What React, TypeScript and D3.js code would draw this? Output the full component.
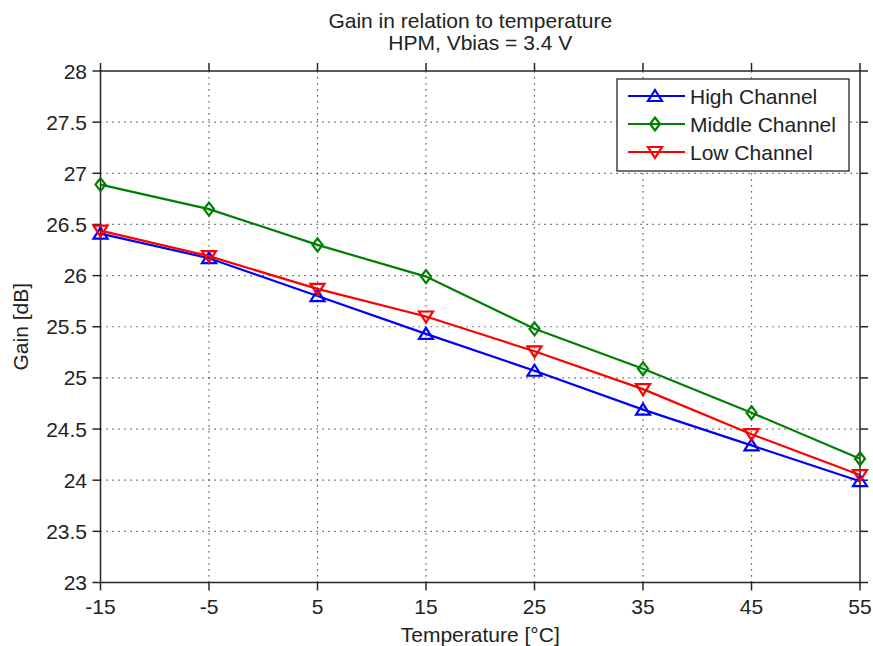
import React, { useEffect, useRef } from "react";
import * as d3 from "d3";

const temperatures = [-15, -5, 5, 15, 25, 35, 45, 55];
const highChannel = [26.41, 26.17, 25.8, 25.43, 25.07, 24.69, 24.34, 23.99];
const middleChannel = [26.89, 26.65, 26.3, 25.99, 25.48, 25.09, 24.66, 24.21];
const lowChannel = [26.44, 26.19, 25.87, 25.6, 25.26, 24.89, 24.45, 24.05];
const xTicks = [-15, -5, 5, 15, 25, 35, 45, 55];
const yTicks = [23, 23.5, 24, 24.5, 25, 25.5, 26, 26.5, 27, 27.5, 28];
const seriesNames = ["High Channel", "Middle Channel", "Low Channel"];
const seriesColors = ["#0000ff", "#008000", "#ff0000"];
const seriesMarkers = ["up", "diamond", "down"];
const titleLines = ["Gain in relation to temperature", "HPM, Vbias = 3.4 V"];
const xLabel = "Temperature [°C]";
const yLabel = "Gain [dB]";

const W = 873;
const H = 646;
const M = { left: 100.5, right: 13, top: 71, bottom: 64 };
const FONT = "'Liberation Sans', Arial, sans-serif";

function markerPath(kind: string) {
  if (kind === "up") return "M0,-6L7,5L-7,5Z";
  if (kind === "down") return "M0,6L7,-5L-7,-5Z";
  return "M0,-6.5L5,0L0,6.5L-5,0Z";
}

export default function App() {
  const ref = useRef<SVGSVGElement>(null);
  useEffect(() => {
    const svg = d3.select(ref.current);
    svg.selectAll("*").remove();
    const x = d3.scaleLinear().domain([-15, 55]).range([M.left, W - M.right]);
    const y = d3.scaleLinear().domain([23, 28]).range([H - M.bottom + 0.5, M.top]);
    const x0 = x(-15), x1 = x(55), y0 = y(23), y1 = y(28);
    const axisColor = "#262626";

    svg.append("rect").attr("width", W).attr("height", H).attr("fill", "#fff");

    // grid
    const grid = svg.append("g").attr("stroke", "#333").attr("stroke-width", 1.2).attr("stroke-dasharray", "1.2,4.8");
    xTicks.slice(1, -1).forEach((t) => {
      grid.append("line").attr("x1", x(t)).attr("x2", x(t)).attr("y1", y0).attr("y2", y1);
    });
    yTicks.slice(1, -1).forEach((t) => {
      grid.append("line").attr("x1", x0).attr("x2", x1).attr("y1", y(t)).attr("y2", y(t));
    });

    // box
    svg.append("rect").attr("x", x0).attr("y", y1).attr("width", x1 - x0).attr("height", y0 - y1)
      .attr("fill", "none").attr("stroke", axisColor).attr("stroke-width", 1.5);

    // ticks outward
    const tk = svg.append("g").attr("stroke", axisColor).attr("stroke-width", 1.5);
    xTicks.forEach((t) => {
      tk.append("line").attr("x1", x(t)).attr("x2", x(t)).attr("y1", y0).attr("y2", y0 + 8);
      tk.append("line").attr("x1", x(t)).attr("x2", x(t)).attr("y1", y1).attr("y2", y1 - 8);
    });
    yTicks.forEach((t) => {
      tk.append("line").attr("x1", x0).attr("x2", x0 - 8).attr("y1", y(t)).attr("y2", y(t));
      tk.append("line").attr("x1", x1).attr("x2", x1 + 8).attr("y1", y(t)).attr("y2", y(t));
    });

    // tick labels
    const fmt = (v: number) => String(v);
    svg.append("g").selectAll("text").data(xTicks).join("text")
      .attr("x", (d) => x(d)).attr("y", 614).attr("text-anchor", "middle")
      .attr("font-family", FONT).attr("font-size", 21).attr("fill", "#222").text((d) => fmt(d));
    svg.append("g").selectAll("text").data(yTicks).join("text")
      .attr("x", 87).attr("y", (d) => y(d)).attr("dy", "0.36em").attr("text-anchor", "end")
      .attr("font-family", FONT).attr("font-size", 21).attr("fill", "#222").text((d) => fmt(d));

    // titles
    const titleX = [(x0 + x1) / 2 - 10, (x0 + x1) / 2];
    titleLines.forEach((l, i) => {
      svg.append("text").attr("x", titleX[i]).attr("y", 28 + i * 22).attr("text-anchor", "middle")
        .attr("font-family", FONT).attr("font-size", 21).attr("fill", "#222").text(l);
    });
    svg.append("text").attr("x", (x0 + x1) / 2).attr("y", 642).attr("text-anchor", "middle")
      .attr("font-family", FONT).attr("font-size", 21).attr("fill", "#222").text(xLabel);
    svg.append("text").attr("transform", `translate(28,${(y0 + y1) / 2}) rotate(-90)`).attr("text-anchor", "middle")
      .attr("font-family", FONT).attr("font-size", 21).attr("fill", "#222").text(yLabel);

    // series
    const data = [highChannel, middleChannel, lowChannel];
    const line = d3.line<number>().x((_, i) => x(temperatures[i])).y((d) => y(d));
    data.forEach((vals, si) => {
      const g = svg.append("g");
      g.append("path").attr("d", line(vals)).attr("fill", "none").attr("stroke", seriesColors[si]).attr("stroke-width", 2.2);
      g.selectAll("path.m").data(vals).join("path").attr("class", "m")
        .attr("transform", (d, i) => `translate(${x(temperatures[i])},${y(d)})`)
        .attr("d", markerPath(seriesMarkers[si])).attr("fill", "none")
        .attr("stroke", seriesColors[si]).attr("stroke-width", 2.2);
    });

    // legend
    const lg = svg.append("g");
    lg.append("rect").attr("x", 617).attr("y", 79).attr("width", 232).attr("height", 92)
      .attr("fill", "#fff").attr("stroke", axisColor).attr("stroke-width", 1.3);
    seriesNames.forEach((n, i) => {
      const cy = 96 + i * 28;
      lg.append("line").attr("x1", 628).attr("x2", 685).attr("y1", cy).attr("y2", cy)
        .attr("stroke", seriesColors[i]).attr("stroke-width", 2.2);
      lg.append("path").attr("transform", `translate(655,${cy})`).attr("d", markerPath(seriesMarkers[i]))
        .attr("fill", "none").attr("stroke", seriesColors[i]).attr("stroke-width", 2.2);
      lg.append("text").attr("x", 690).attr("y", cy).attr("dy", "0.36em")
        .attr("font-family", FONT).attr("font-size", 21).attr("fill", "#222").text(n);
    });
  }, []);
  return (
    <svg ref={ref} width={W} height={H} style={{ position: "absolute", left: 0, top: 0 }} />
  );
}
